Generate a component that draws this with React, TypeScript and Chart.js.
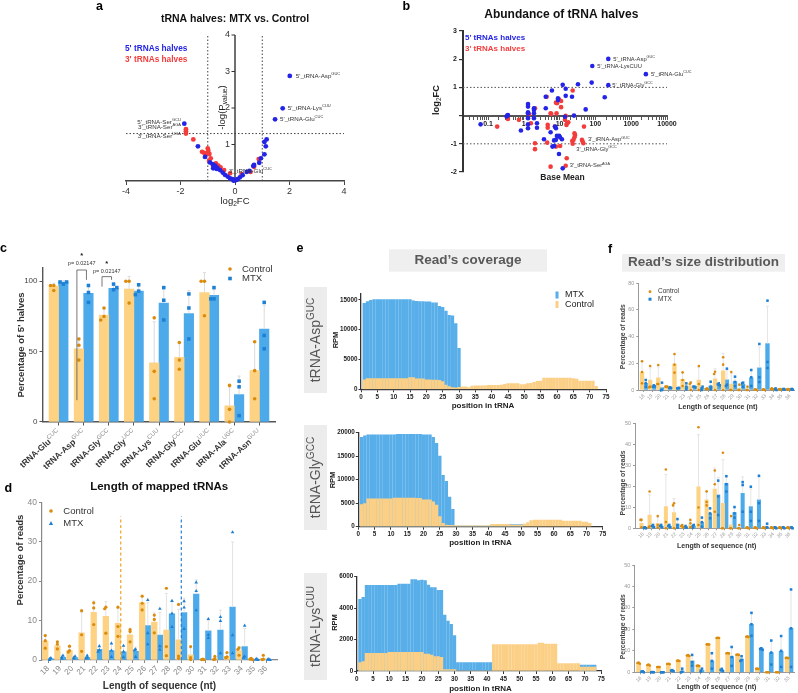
import React, { useEffect, useRef } from 'react';
import { Chart, registerables } from 'chart.js';

Chart.register(...registerables);

const W = 798;
const H = 693;
const FF = '"Liberation Sans", Arial, Helvetica, sans-serif';

const BAR_CTRL = '#FDD283';
const BAR_MTX = '#4DAAEA';
const DOT_CTRL = '#DB8B0C';
const DOT_MTX = '#1E80D4';
const COV_CTRL = '#FBD086';
const COV_MTX = '#58AEE8';
const PT5 = '#2424E6';
const PT3 = '#F43C3C';

// ---------------- panel a : volcano ----------------
const volcano5p: number[][] = [
  [2.01, 2.88], [1.75, 1.99], [1.47, 1.69], [-1.86, 1.57], [-1.36, 0.95], [-1.10, 0.66], [-0.92, 0.51],
  [-0.82, 0.46], [-0.73, 0.42], [-0.65, 0.36], [-0.55, 0.30], [-0.45, 0.23], [-0.37, 0.17], [-0.27, 0.12],
  [-0.18, 0.07], [-0.09, 0.05], [0, 0.02], [0.09, 0.05], [0.18, 0.10], [0.28, 0.16], [0.43, 0.25],
  [0.53, 0.28], [0.67, 0.41], [0.70, 0.44], [0.89, 0.50], [0.95, 0.62], [1.08, 0.73], [1.13, 0.95],
  [1.08, 1.07], [1.16, 1.14], [-0.80, 0.35], [-0.67, 0.33], [-0.05, 0.01], [0.05, 0.03],
];
const volcano3p: number[][] = [
  [-1.80, 1.42], [-1.80, 1.36], [-1.80, 1.30], [-1.53, 1.14], [-1.00, 0.89], [-0.98, 0.83], [-1.21, 0.80],
  [-1.13, 0.77], [-1.04, 0.75], [-0.94, 0.74], [-0.89, 0.62], [-0.70, 0.48], [-0.61, 0.42], [-0.53, 0.37],
  [-0.40, 0.30], [-0.18, 0.21], [0.24, 0.19], [0.57, 0.25], [0.70, 0.39], [0.87, 0.60], [-0.80, 0.39], [-0.95, 0.55],
];
const aVLines = [-1, 1];
const aHLine = 1.3;
const aYTicks = [1, 2, 3, 4];
const volcanoLabels = [
  { at: [2.01, 2.88], text: "5'_tRNA-Asp^{GUC}", dx: 6, dy: 0, align: 'left' },
  { at: [1.75, 1.99], text: "5'_tRNA-Lys^{CUU}", dx: 5, dy: 0, align: 'left' },
  { at: [1.47, 1.69], text: "5'_tRNA-Glu^{CUC}", dx: 5, dy: 0, align: 'left' },
  { at: [-1.86, 1.57], text: "5'_tRNA-Ser^{GCU}", dx: -3.5, dy: -1.5, align: 'right' },
  { at: [-1.80, 1.42], text: "3'_tRNA-Ser^{AGA}", dx: -5, dy: -2, align: 'right' },
  { at: [-1.80, 1.30], text: "3'_tRNA-Ser^{UGA}", dx: -5, dy: 3, align: 'right' },
  { at: [0.43, 0.25], text: "3'_tRNA-Glu^{CUC}", dx: -18, dy: -1, align: 'left' },
];

// ---------------- panel b : MA plot ----------------
const ma5p: number[][] = [
  [0.062, -0.31], [0.345, 0], [0.36, 0.02], [0.33, -0.03],
  [1.31, 0.41], [1.31, 0.32], [1.31, 0.12], [1.31, 0.08], [1.31, -0.09], [1.31, -0.31], [1.31, -0.45], [0.83, -0.53],
  [1.92, 0.20], [1.92, 0.08], [1.92, -0.09], [1.92, 0.26], [2.33, -0.43], [2.33, -0.27],
  [4.1, 0.26], [4.1, 0.67], [6.1, 0.89], [9.0, 0.61], [9.0, 0.55], [14.8, 0.95], [14.8, 0.70], [12.2, 1.09],
  [32.6, 1.11], [22.2, 0.67], [53.5, 0.22], [25.2, 0], [14.1, -0.04],
  [7.4, -0.39], [7.9, -0.45], [5.6, -0.59], [3.66, -0.84], [7.0, -0.88], [7.9, -0.86], [7.0, -1.08], [6.3, -1.1],
  [8.4, -0.72], [9.7, -0.72], [10.3, -0.77], [11.6, -0.84], [9.6, -1.36], [12.2, -1.87],
  [78.7, 1.17], [182, 0.65], [229, 2.01], [81.8, 1.76], [229, 1.08], [2570, 1.47],
];
const ma3p: number[][] = [
  [0.18, -0.39], [0.36, -0.12], [0.73, -0.15], [1.39, 0.05], [2.05, 0.26], [2.05, -0.98], [2.05, -1.19], [1.58, -0.27],
  [4.35, 0.67], [4.65, -0.33], [4.65, -0.43], [4.5, -0.96], [5.6, 0.08], [5.85, 0.06],
  [7.9, 0.46], [8.45, 0.44], [9.6, 0.58], [11.0, 0.52], [11.0, 0.30], [8.2, 0.08], [7.4, -0.39],
  [14.8, -0.01], [14.1, -0.15], [15.5, -0.33], [16.2, -0.27], [17.5, -0.24], [23.2, 0.89],
  [22.5, -0.9], [23.2, -1.0], [24.5, -0.86], [27, -0.69], [26, -0.63], [26, -0.77], [42, -0.86], [46, -0.98],
  [44, -0.92], [48, -0.39], [10.3, -1.08], [7.9, -1.1], [15.8, -1.51], [5.6, -1.81], [14.8, -1.78],
];
const bMajorVals = [0.1, 1, 10, 100, 1000, 10000];
const bTickLabels = ['0.1', '1', '10', '100', '1000', '10000'];
const bDotted = [1, -1];
const maLabels = [
  { at: [229, 2.01], text: "5'_tRNA-Asp^{GUC}", dx: 5, dy: 0 },
  { at: [81.8, 1.76], text: "5'_tRNA-LysCUU", dx: 5, dy: 0 },
  { at: [2570, 1.47], text: "5'_tRNA-Glu^{CUC}", dx: 5, dy: 0 },
  { at: [229, 1.08], text: "5'_tRNA-Gly^{GCC}", dx: 4, dy: 0 },
  { at: [42, -0.86], text: "3'_tRNA-Asp^{GUC}", dx: 6, dy: 0 },
  { at: [46, -0.98], text: "3'_tRNA-Gly^{GCC}", dx: -7, dy: 6 },
  { at: [14.8, -1.78], text: "3'_tRNA-Ser^{AGA}", dx: 4, dy: 0 },
];

// ---------------- panel c ----------------
const cCats = ['tRNA-Glu^{CUC}', 'tRNA-Asp^{GUC}', 'tRNA-Gly^{GCC}', 'tRNA-Gly^{UCC}', 'tRNA-Lys^{CUU}',
  'tRNA-Gly^{CCC}', 'tRNA-Glu^{UUC}', 'tRNA-Ala^{UGC}', 'tRNA-Asn^{GUU}'];
const cCtrlMean = [96.5, 52, 76, 94.5, 42, 46, 92, 11.5, 36.5];
const cMtxMean = [99.5, 91.5, 95, 93, 84.5, 77, 90, 19.5, 66];
const cCtrlReps = [[97, 93.4, 97], [59, 54.5, 44], [81, 75, 72.5], [100, 100, 84.5], [74, 36, 16.5],
  [56.5, 44, 37.5], [100, 100, 75.5], [26, 9, 0], [57, 36.5, 16.5]];
const cMtxReps = [[98, 99.5, 99.5], [97, 92, 85], [94, 98, 95.5], [97.5, 93, 90.5], [95.5, 86.5, 72.5],
  [91, 81, 59], [95.5, 87.5, 87.5], [29, 25, 4.5], [85, 61.5, 52]];
const cSig = [
  { group: 1, top: 108, left: 15.5, right: 101, text: 'p= 0.02147', textY: 112.6, starY: 118 },
  { group: 2, top: 103.3, left: 96.2, right: 101, text: 'p= 0.02147', textY: 107.3, starY: 112.5 },
];

// ---------------- panel d ----------------
const dCats = ['18', '19', '20', '21', '22', '23', '24', '25', '26', '27', '28', '29', '30', '31', '32', '33', '34', '35', '36'];
const dCtrlMean = [4.8, 3.6, 2.4, 6.9, 12.1, 11.1, 9.3, 6.4, 14.5, 9.6, 7.6, 5.1, 1.3, 0.1, 0.3, 0.9, 2.4, 0.3, 0.4];
const dMtxMean = [0.3, 0.7, 0.6, 0.7, 2.7, 2.4, 2.1, 2.2, 8.7, 6.3, 11.7, 12.0, 16.7, 7.4, 7.6, 13.4, 3.4, 0.1, 0.1];
const dCtrlReps = [[6.2, 4.9, 3.0], [4.6, 4.0, 2.8], [3.5, 2.4, 2.0], [12.5, 6.4, 2.2], [14.5, 13.2, 9.0],
  [13.4, 13.0, 6.8], [13.4, 8.5, 6.0], [7.7, 7.2, 4.6], [16.2, 14.4, 12.7], [11.4, 10.3, 6.9], [18.2, 3.4, 1.1],
  [14.1, 1.0, 0.4], [3.4, 0.6, 0.1], [0.2, 0.1, 0.1], [0.9, 0.2, 0.1], [1.9, 0.8, 0.6], [3.1, 2.7, 1.2],
  [0.4, 0.2, 0.1], [1.2, 0.2, 0.1]];
const dMtxReps = [[0.5, 0.3, 0.0], [1.1, 0.7, 0.3], [0.9, 0.6, 0.4], [1.1, 0.6, 0.4], [3.5, 2.5, 2.1],
  [4.2, 2.4, 0.8], [3.6, 2.1, 0.7], [2.7, 2.5, 0.8], [15.2, 6.8, 4.0], [13.0, 3.5, 2.6], [15.0, 11.8, 8.4],
  [14.9, 13.3, 7.9], [19.7, 17.5, 12.6], [10.4, 6.4, 5.6], [10.9, 9.9, 1.7], [32.4, 6.3, 1.7], [8.7, 0.9, 0.6],
  [0.3, 0.1, 0.0], [0.2, 0.1, 0.0]];
const dModeLines = [{ at: 6, top: 36.4, color: '#F2A227' }, { at: 11, top: 36.4, color: '#2A80D6' }];

// ---------------- panel e : coverage ----------------
const e1Mtx = [14450, 14730, 14950, 15050, 15050, 15050, 15050, 15050, 15050, 15050,
  15050, 15050, 15050, 15050, 15050, 14850, 14780, 14730, 14730, 14700,
  14700, 14500, 14500, 13950, 13770, 13150, 12430, 12320, 11030, 6890];
const e1Ctrl = [1600, 1800, 1800, 1800, 1800, 1800, 1800, 1800, 1800, 1800,
  1800, 1800, 1800, 1800, 1950, 1950, 1750, 1750, 1750, 1600,
  1600, 1550, 1550, 1500, 1300, 700, 450, 300, 250, 350,
  400, 400, 300, 550, 600, 600, 600, 600, 650, 650,
  650, 650, 700, 850, 950, 950, 950, 950, 800, 800,
  950, 1000, 1150, 1350, 1400, 1900, 1900, 1900, 1900, 1900,
  1900, 1900, 1900, 1900, 1800, 1700, 1400, 1400, 1400, 1400,
  1400, 500];
const e2Mtx = [19000, 19300, 19500, 19500, 19500, 19500, 19500, 19500, 19500, 19500,
  19500, 19600, 19600, 19600, 19600, 19600, 19600, 19600, 19600, 19500,
  19500, 19500, 19000, 17700, 15000, 10900, 9650, 6300, 3700, 100,
  100, 100, 100, 100, 100, 100, 100, 100, 100, 100,
  300, 300, 300, 300, 450, 450, 450, 450, 450, 450];
const e2Ctrl = [4700, 4900, 5900, 5900, 5900, 5900, 5900, 5900, 5900, 5900,
  6100, 6100, 6100, 6100, 6100, 6100, 6100, 6000, 6000, 5700,
  5700, 5700, 5300, 4570, 2140, 700, 350, 280, 280, 200,
  200, 200, 200, 200, 200, 200, 200, 200, 200, 200,
  500, 500, 500, 500, 500, 500, 350, 350, 350, 350,
  570, 850, 1300, 1430, 1430, 1430, 1430, 1430, 1430, 1430,
  1430, 1430, 1200, 1200, 1200, 1200, 1200, 1200, 1000, 1000,
  700];
const e3Mtx = [4560, 4690, 5450, 5450, 5450, 5450, 5450, 5450, 5450, 5450,
  5450, 5450, 5530, 5530, 5530, 5530, 5810, 5810, 5750, 5790,
  5750, 5470, 5300, 5300, 5130, 5130, 3560, 3180, 2970, 2250,
  530, 530, 530, 530, 530, 530, 530, 530, 530, 530,
  530, 0, 0, 0, 0, 0, 0, 0, 0, 0,
  0, 0, 0, 0, 0, 0, 0, 0, 0, 0,
  0, 0, 0, 0, 0, 0, 0, 0, 380, 380,
  380, 380, 380];
const e3Ctrl = [530, 600, 1120, 1120, 1120, 1120, 1120, 1120, 1120, 1190,
  1190, 1190, 1190, 1190, 1190, 1190, 1190, 1190, 1190, 1190,
  1080, 1080, 1020, 910, 910, 870, 90, 90, 90, 90,
  0, 0, 0, 0, 0, 0, 0, 0, 0, 0,
  0, 1680, 1680, 1680, 1680, 1680, 1680, 1680, 1680, 1680,
  1680, 1680, 1680, 1680, 1680, 1780, 1780, 1720, 1720, 1720,
  1720, 480, 480, 480, 480, 480, 480, 480, 250, 250,
  250, 250, 250];
const e1YTicks = [0, 5000, 10000, 15000];
const e2YTicks = [0, 5000, 10000, 15000, 20000];
const e3YTicks = [0, 2000, 4000, 6000];

// ---------------- panel f : size distribution ----------------
const fCats = ['18', '19', '20', '21', '22', '23', '24', '25', '26', '27', '28', '29', '30', '31', '32', '33', '34', '35', '36'];
const f3Cats = ['18', '19', '20', '21', '22', '23', '24', '25', '26', '27', '28', '29', '30', '31', '32', '33'];
const f1CtrlMean = [13.3, 7.5, 9.2, 2.5, 19.5, 8.0, 3.2, 7.5, 0.8, 8.4, 14.4, 4.5, 1.3, 0.8, 0.3, 0.3, 0.8, 0.5, 0.5];
const f1MtxMean = [5, 3.0, 1.8, 1.7, 1.3, 2.6, 2.4, 1.2, 3.0, 4.2, 7.6, 6.3, 4.3, 9.2, 16.7, 34.8, 0.6, 0.5, 0.5];
const f1CtrlReps = [[21.5, 13.5, 5], [18, 2.5, 2], [18.7, 4.5, 4.5], [2.5, 2.5, 2.5], [27, 19, 13], [13.2, 7.5, 3],
  [5.5, 4.5, 0], [18, 4.5, 0], [1.2, 0.8, 0.5], [13.7, 12, 0], [24.5, 19, 0], [13.5, 0, 0], [4, 0, 0], [2.5, 0, 0],
  [0.5, 0.3, 0], [0.5, 0.3, 0], [1.2, 0.8, 0.5], [0.8, 0.5, 0.3], [0.8, 0.5, 0.3]];
const f1MtxReps = [[7.5, 5, 2.5], [3.5, 2.5, 2.7], [5.5, 0, 0], [2, 1.5, 1.5], [1.5, 1.2, 1.5], [5, 2.5, 0.5],
  [2.5, 2.5, 2.0], [2.5, 1.2, 0], [6.2, 2.5, 0.5], [5, 4.2, 3.5], [16, 4, 3], [10, 6, 3], [5.5, 5, 2.5],
  [15, 9.5, 3], [34.5, 9.5, 6], [67, 21, 16.5], [1.2, 0.5, 0], [0.8, 0.5, 0.3], [0.8, 0.5, 0.3]];
const f2CtrlMean = [2.4, 6.3, 2.4, 10.3, 7.5, 1.1, 1.6, 19.8, 13.5, 18.7, 11.9, 1.6, 0.5, 0.3, 0.3, 0.3, 0.3, 0.3, 0.3];
const f2MtxMean = [0.5, 1.1, 1.1, 1.1, 2.0, 0.6, 1.1, 2.9, 7.1, 15.9, 21.4, 7.5, 16.7, 10.3, 13.5, 0.5, 0.5, 0.5, 0.5];
const f2CtrlReps = [[4, 4, 0.5], [17.5, 1, 0.5], [5.8, 1.6, 0.3], [28, 3, 0], [11.9, 10.9, 0], [1.6, 1.1, 0.5],
  [4, 2.4, 0.5], [48.1, 9.9, 1.6], [17.6, 12.5, 10.9], [27.5, 21, 7.9], [36, 0, 0], [5.8, 0, 0], [1.6, 0, 0],
  [0.5, 0.3, 0], [0.5, 0.3, 0], [0.5, 0.3, 0], [0.5, 0.3, 0], [0.5, 0.3, 0], [0.5, 0.3, 0]];
const f2MtxReps = [[0.5, 0.3, 0], [1.6, 1.1, 0.5], [1.6, 1.1, 0.5], [1.6, 1.1, 0.5], [4.4, 1.6, 0.3], [1.1, 0.5, 0.3],
  [1.6, 1.1, 0.3], [5.1, 2.9, 0.8], [9.5, 7.1, 4.8], [22.7, 15.2, 6.3], [24.8, 21, 17.5], [10.1, 7.1, 5.1],
  [22, 20.6, 7.9], [19.8, 7.9, 3.5], [25, 12, 3.5], [2.2, 0.5, 0.3], [0.5, 0.3, 0], [0.5, 0.3, 0], [0.5, 0.3, 0]];
const f3CtrlMean = [4.3, 3.4, 2.5, 3.9, 5.4, 7.8, 3.0, 13.0, 16.0, 8.9, 8.2, 16.6, 1.6, 0, 0, 6.7];
const f3MtxMean = [0.3, 0.05, 0, 0.8, 0.6, 5.3, 0.9, 5.3, 1.1, 7.3, 6.2, 22.4, 10.9, 9.2, 9.8, 20.5];
const f3CtrlReps = [[4.5, 4.3, 4.0], [3.6, 3.4, 3.2], [2.5, 2.5, 2.5], [4.0, 3.9, 3.8], [5.5, 5.4, 5.3], [8.0, 7.8, 7.6],
  [3.1, 3.0, 2.9], [13.1, 13, 12.9], [16.1, 16, 16], [9.0, 8.9, 8.8], [8.3, 8.2, 8.1], [16.8, 16.6, 16.4],
  [1.7, 1.6, 1.5], [0, 0, 0], [0, 0, 0], [6.8, 6.7, 6.6]];
const f3MtxReps = [[0.5, 0.3, 0], [0.1, 0.05, 0], [0, 0, 0], [1, 0.8, 0.5], [1.7, 0.3, 0], [8.1, 4.7, 3.1],
  [1.7, 0.8, 0.3], [8.9, 5.3, 1.7], [1.6, 1.1, 0.5], [11.8, 7.1, 3.0], [7.5, 5.8, 5.3], [27.7, 22.4, 17],
  [11.2, 10.9, 10.5], [14.8, 9.2, 3.6], [16.9, 10, 2.5], [38.6, 20.5, 2.5]];

// ---------------- helpers ----------------
type Seg = { t: string; k: 'n' | 'sup' | 'sub' };
function parseRich(s: string): Seg[] {
  const out: Seg[] = [];
  const re = /(\^\{[^}]*\}|_\{[^}]*\})/g;
  let last = 0;
  let m: RegExpExecArray | null;
  while ((m = re.exec(s))) {
    if (m.index > last) out.push({ t: s.slice(last, m.index), k: 'n' });
    out.push({ t: m[0].slice(2, -1), k: m[0][0] === '^' ? 'sup' : 'sub' });
    last = m.index + m[0].length;
  }
  if (last < s.length) out.push({ t: s.slice(last), k: 'n' });
  return out;
}
interface RO { bold?: boolean; color?: string; supColor?: string; align?: string; rot?: number; supScale?: number; supBold?: boolean; baseline?: string }
function rich(ctx: CanvasRenderingContext2D, s: string, x: number, y: number, size: number, o: RO = {}) {
  const segs = parseRich(s);
  const sc = o.supScale ?? 0.7;
  const fontFor = (k: string) => {
    const b = o.bold && (k === 'n' || o.supBold) ? 'bold ' : '';
    return `${b}${k === 'n' ? size : size * sc}px ${FF}`;
  };
  ctx.save();
  let total = 0;
  const widths = segs.map((g) => { ctx.font = fontFor(g.k); const w = ctx.measureText(g.t).width; total += w; return w; });
  ctx.translate(x, y);
  if (o.rot) ctx.rotate((o.rot * Math.PI) / 180);
  let cx = o.align === 'right' ? -total : o.align === 'center' ? -total / 2 : 0;
  ctx.textBaseline = (o.baseline as CanvasTextBaseline) || 'middle';
  ctx.textAlign = 'left';
  segs.forEach((g, i) => {
    ctx.font = fontFor(g.k);
    ctx.fillStyle = g.k === 'n' ? (o.color ?? '#222') : (o.supColor ?? o.color ?? '#222');
    const dy = g.k === 'sup' ? -size * 0.38 : g.k === 'sub' ? size * 0.3 : 0;
    ctx.fillText(g.t, cx, dy);
    cx += widths[i];
  });
  ctx.restore();
}
function line(ctx: CanvasRenderingContext2D, x1: number, y1: number, x2: number, y2: number, color: string, width = 1, dash: number[] = []) {
  ctx.save();
  ctx.beginPath();
  ctx.setLineDash(dash);
  ctx.strokeStyle = color;
  ctx.lineWidth = width;
  ctx.moveTo(x1, y1);
  ctx.lineTo(x2, y2);
  ctx.stroke();
  ctx.restore();
}
function marker(ctx: CanvasRenderingContext2D, kind: string, x: number, y: number, r: number, color: string) {
  ctx.save();
  ctx.fillStyle = color;
  ctx.beginPath();
  if (kind === 'circle') { ctx.arc(x, y, r, 0, Math.PI * 2); ctx.fill(); }
  else if (kind === 'rect') { ctx.fillRect(x - r, y - r, 2 * r, 2 * r); }
  else { ctx.moveTo(x, y - r * 1.15); ctx.lineTo(x + r, y + r * 0.75); ctx.lineTo(x - r, y + r * 0.75); ctx.closePath(); ctx.fill(); }
  ctx.restore();
}
function box(ctx: CanvasRenderingContext2D, x1: number, y1: number, x2: number, y2: number, color: string) {
  ctx.save(); ctx.fillStyle = color; ctx.fillRect(x1, y1, x2 - x1, y2 - y1); ctx.restore();
}
function letter(ctx: CanvasRenderingContext2D, t: string, x: number, y: number) {
  rich(ctx, t, x, y, 12.5, { bold: true, color: '#000', baseline: 'alphabetic' });
}
function sdOf(a: number[]) {
  const n = a.length;
  if (n < 2) return 0;
  const m = a.reduce((s, v) => s + v, 0) / n;
  return Math.sqrt(a.reduce((s, v) => s + (v - m) * (v - m), 0) / (n - 1));
}
function dodge(vals: number[], thresh: number, step: number) {
  return vals.map((v, j) => {
    let k = 0;
    for (let m = 0; m < j; m++) if (Math.abs(vals[m] - v) < thresh) k++;
    return k === 0 ? 0 : (k % 2 ? -1 : 1) * Math.ceil(k / 2) * step;
  });
}
function fixW(w: number) {
  return (s: any) => { s.width = w; s.paddingTop = 0; s.paddingBottom = 0; s.paddingLeft = 0; s.paddingRight = 0; };
}
function fixH(h: number) {
  return (s: any) => { s.height = h; s.paddingTop = 0; s.paddingBottom = 0; s.paddingLeft = 0; s.paddingRight = 0; };
}
function baseOpts(L: number, T: number, R: number, B: number, yW: number, xH: number) {
  return {
    responsive: false,
    maintainAspectRatio: false,
    animation: false as const,
    events: [] as any[],
    layout: { padding: { left: L - yW, top: T, right: W - R, bottom: H - B - xH } },
    plugins: { legend: { display: false }, tooltip: { enabled: false }, title: { display: false } },
  };
}

// ---------------- chart a ----------------
function makeA(cv: HTMLCanvasElement) {
  return new Chart(cv, {
    type: 'scatter',
    data: {
      datasets: [
        { data: volcano5p.map(([x, y]) => ({ x, y })), backgroundColor: PT5, pointRadius: 2.4, borderWidth: 0, clip: false } as any,
        { data: volcano3p.map(([x, y]) => ({ x, y })), backgroundColor: PT3, pointRadius: 2.4, borderWidth: 0, clip: false } as any,
      ],
    },
    options: {
      ...baseOpts(126, 35, 344, 181, 0, 22),
      scales: {
        x: {
          type: 'linear', min: -4, max: 4, afterFit: fixH(22),
          ticks: { stepSize: 2, color: '#333', font: { family: FF, size: 9 }, padding: 1, maxRotation: 0, includeBounds: false },
          grid: { drawOnChartArea: false, tickLength: 4, color: '#444', lineWidth: 1 },
          border: { color: '#444', width: 1.4 },
        },
        y: { type: 'linear', min: 0, max: 4, display: false },
      },
    } as any,
    plugins: [{
      id: 'pa',
      beforeDatasetsDraw(c: any) {
        const ctx = c.ctx; const X = (v: number) => c.scales.x.getPixelForValue(v); const Y = (v: number) => c.scales.y.getPixelForValue(v);
        aVLines.forEach((v) => line(ctx, X(v), Y(0), X(v), Y(4), '#444', 1, [1.5, 2]));
        line(ctx, X(-4), Y(aHLine), X(4), Y(aHLine), '#444', 1, [1.5, 2]);
        line(ctx, X(0), Y(0), X(0), Y(4), '#333', 1.4);
        aYTicks.forEach((v) => {
          line(ctx, X(0) - 3.5, Y(v), X(0), Y(v), '#333', 1);
          rich(ctx, String(v), X(0) - 5, Y(v), 9, { align: 'right', color: '#333' });
        });
      },
      afterDraw(c: any) {
        const ctx = c.ctx; const X = (v: number) => c.scales.x.getPixelForValue(v); const Y = (v: number) => c.scales.y.getPixelForValue(v);
        volcanoLabels.forEach((l) => rich(ctx, l.text, X(l.at[0]) + l.dx, Y(l.at[1]) + l.dy, 6.2, { align: l.align, color: '#333', supScale: 0.65 }));
        rich(ctx, '-log(P_{value})', 222, 107.5, 9.5, { align: 'center', rot: -90, color: '#222' });
        rich(ctx, 'log_{2}FC', 235, 201.7, 9.5, { align: 'center', color: '#222' });
        rich(ctx, "5' tRNAs halves", 125, 48.3, 8.3, { bold: true, color: PT5 });
        rich(ctx, "3' tRNAs halves", 125, 60, 8.3, { bold: true, color: PT3 });
        rich(ctx, 'tRNA halves: MTX vs. Control', 235, 19, 10.5, { bold: true, align: 'center', color: '#111' });
        letter(ctx, 'a', 96, 9.5);
      },
    }],
  });
}

// ---------------- chart b ----------------
function makeB(cv: HTMLCanvasElement) {
  const tickVals: number[] = [];
  for (let e = -2; e <= 4; e++) for (let m = 1; m <= 9; m++) {
    const v = m * Math.pow(10, e);
    if (v >= 0.02 - 1e-12 && v <= 10000 * (1 + 1e-9)) tickVals.push(v);
  }
  const label = (v: number) => {
    const i = bMajorVals.findIndex((m) => Math.abs(v - m) / m < 1e-6);
    return i >= 0 ? bTickLabels[i] : '';
  };
  return new Chart(cv, {
    type: 'scatter',
    data: {
      datasets: [
        { data: ma5p.map(([x, y]) => ({ x, y })), backgroundColor: PT5, pointRadius: 2.3, borderWidth: 0, clip: false } as any,
        { data: ma3p.map(([x, y]) => ({ x, y })), backgroundColor: PT3, pointRadius: 2.3, borderWidth: 0, clip: false } as any,
      ],
    },
    options: {
      ...baseOpts(463, 31, 667, 172, 22, 0),
      scales: {
        x: {
          type: 'logarithmic', min: 0.02, max: 10000, position: { y: 0 },
          afterBuildTicks: (s: any) => { s.ticks = tickVals.map((v) => ({ value: v })); },
          ticks: { autoSkip: false, maxRotation: 0, minRotation: 0, padding: 1.5, color: '#222', font: { family: FF, size: 7, weight: 'bold' }, callback: (v: any) => label(Number(v)) },
          grid: { drawOnChartArea: false, tickLength: 3, color: '#555', lineWidth: 1 },
          border: { color: '#555', width: 2 },
        },
        y: {
          type: 'linear', min: -2, max: 3, position: 'left', afterFit: fixW(22),
          ticks: { stepSize: 1, padding: 2, color: '#222', font: { family: FF, size: 7, weight: 'bold' }, callback: (v: any) => (Number(v) === 0 ? '' : String(v)) },
          grid: { drawOnChartArea: false, tickLength: 4, color: '#333', lineWidth: 1.2 },
          border: { color: '#333', width: 2 },
        },
      },
    } as any,
    plugins: [{
      id: 'pb',
      beforeDatasetsDraw(c: any) {
        const ctx = c.ctx; const X = (v: number) => c.scales.x.getPixelForValue(v); const Y = (v: number) => c.scales.y.getPixelForValue(v);
        bDotted.forEach((v) => line(ctx, X(0.02), Y(v), X(10000), Y(v), '#555', 1, [1.5, 2]));
      },
      afterDraw(c: any) {
        const ctx = c.ctx; const X = (v: number) => c.scales.x.getPixelForValue(v); const Y = (v: number) => c.scales.y.getPixelForValue(v);
        maLabels.forEach((l) => rich(ctx, l.text, X(l.at[0]) + l.dx, Y(l.at[1]) + l.dy, 5.8, { color: '#333', supScale: 0.65 }));
        rich(ctx, "5' tRNAs halves", 465, 37.7, 8, { bold: true, color: PT5 });
        rich(ctx, "3' tRNAs halves", 465, 48.3, 8, { bold: true, color: PT3 });
        rich(ctx, 'log_{2}FC', 436.7, 100, 9.3, { bold: true, align: 'center', rot: -90, color: '#222' });
        rich(ctx, 'Base Mean', 562.5, 177.7, 8.5, { bold: true, align: 'center', color: '#222' });
        rich(ctx, 'Abundance of tRNA halves', 561.3, 14.3, 12, { bold: true, align: 'center', color: '#111' });
        letter(ctx, 'b', 402.5, 10);
      },
    }],
  });
}

// ---------------- grouped bar + dots ----------------
interface GCfg {
  L: number; T: number; R: number; B: number; yW: number; xH: number;
  xMin: number; xMax: number; yMax: number; yStep: number; cats: string[]; showX: boolean;
  ctrlMean: number[]; mtxMean: number[]; ctrlReps: number[][]; mtxReps: number[][];
  off: number; thick: number; dotR: number; mtxR: number; mtxStyle: string; dodgeT: number; dodgeS: number;
  axisColor: string; axisW: number; tickLen: number; yFont: number; yColor: string; xFont: number; xColor: string; xRot: number;
  errColor: string; draw: (c: any, ctx: CanvasRenderingContext2D) => void;
}
function makeGrouped(cv: HTMLCanvasElement, g: GCfg) {
  const dots = (reps: number[][], sign: number) => reps.flatMap((r, i) => {
    const d = dodge(r, g.dodgeT, g.dodgeS);
    return r.map((v, j) => ({ x: i + sign * g.off + d[j], y: v }));
  });
  const drawErr = (c: any) => {
    const ctx = c.ctx; const xs = c.scales.x; const ys = c.scales.y;
    ctx.save(); ctx.strokeStyle = g.errColor; ctx.lineWidth = 0.8;
    const sets: [number[], number[][], number][] = [[g.ctrlMean, g.ctrlReps, -1], [g.mtxMean, g.mtxReps, 1]];
    sets.forEach(([means, reps, s]) => {
      means.forEach((m, i) => {
        const sd = sdOf(reps[i]);
        if (sd <= 0.05) return;
        const px = xs.getPixelForValue(i + s * g.off);
        const y1 = ys.getPixelForValue(m); const y2 = ys.getPixelForValue(m + sd);
        ctx.beginPath(); ctx.moveTo(px, y1); ctx.lineTo(px, y2); ctx.moveTo(px - 1.5, y2); ctx.lineTo(px + 1.5, y2); ctx.stroke();
      });
    });
    ctx.restore();
  };
  return new Chart(cv, {
    type: 'bar',
    data: {
      datasets: [
        { type: 'scatter', data: dots(g.ctrlReps, -1), pointRadius: g.dotR, pointStyle: 'circle', backgroundColor: DOT_CTRL, borderWidth: 0, order: 1, clip: false } as any,
        { type: 'scatter', data: dots(g.mtxReps, 1), pointRadius: g.mtxR, pointStyle: g.mtxStyle, backgroundColor: DOT_MTX, borderWidth: 0, order: 1, clip: false } as any,
        { type: 'bar', data: g.ctrlMean.map((v, i) => ({ x: i - g.off, y: v })), backgroundColor: BAR_CTRL, barThickness: g.thick, grouped: false, order: 3, borderWidth: 0 } as any,
        { type: 'bar', data: g.mtxMean.map((v, i) => ({ x: i + g.off, y: v })), backgroundColor: BAR_MTX, barThickness: g.thick, grouped: false, order: 3, borderWidth: 0 } as any,
      ],
    },
    options: {
      ...baseOpts(g.L, g.T, g.R, g.B, g.yW, g.xH),
      scales: {
        x: {
          type: 'linear', min: g.xMin, max: g.xMax, offset: false, afterFit: fixH(g.xH),
          afterBuildTicks: (s: any) => { s.ticks = g.cats.map((_, i) => ({ value: i })); },
          ticks: { display: g.showX, autoSkip: false, minRotation: g.xRot, maxRotation: g.xRot, padding: 1, color: g.xColor, font: { family: FF, size: g.xFont }, callback: (v: any) => g.cats[Math.round(Number(v))] ?? '' },
          grid: { drawOnChartArea: false, offset: false, tickLength: g.tickLen, color: g.axisColor, lineWidth: 1 },
          border: { color: g.axisColor, width: g.axisW },
        },
        y: {
          type: 'linear', min: 0, max: g.yMax, afterFit: fixW(g.yW),
          ticks: { stepSize: g.yStep, includeBounds: false, padding: 2, color: g.yColor, font: { family: FF, size: g.yFont } },
          grid: { drawOnChartArea: false, tickLength: g.tickLen, color: g.axisColor, lineWidth: 1 },
          border: { color: g.axisColor, width: g.axisW },
        },
      },
    } as any,
    plugins: [{
      id: 'grp',
      afterDatasetDraw(c: any, args: any) { if (args.index === 2) drawErr(c); },
      afterDraw(c: any) { g.draw(c, c.ctx); },
    }],
  });
}

const C_OFF = 0.19;
function makeC(cv: HTMLCanvasElement) {
  return makeGrouped(cv, {
    L: 43, T: 267.2, R: 275, B: 422, yW: 20, xH: 8, xMin: -0.62, xMax: 8.62, yMax: 110, yStep: 50,
    cats: cCats, showX: false, ctrlMean: cCtrlMean, mtxMean: cMtxMean, ctrlReps: cCtrlReps, mtxReps: cMtxReps,
    off: C_OFF, thick: 9.5, dotR: 1.8, mtxR: 2.5, mtxStyle: 'rect', dodgeT: 3, dodgeS: 0.13,
    axisColor: '#555', axisW: 1.4, tickLen: 3.5, yFont: 8, yColor: '#444', xFont: 8, xColor: '#444', xRot: 0,
    errColor: '#d2d2d2',
    draw: (c, ctx) => {
      const xs = c.scales.x; const ys = c.scales.y;
      cCats.forEach((t, i) => rich(ctx, t, xs.getPixelForValue(i) + 1, 432, 8.5, { bold: true, color: '#333', supColor: '#8a8a8a', align: 'right', rot: -42, supScale: 0.72 }));
      cSig.forEach((s) => {
        const xl = xs.getPixelForValue(s.group - C_OFF) - 2; const xr = xs.getPixelForValue(s.group + C_OFF) - 2;
        const yt = ys.getPixelForValue(s.top);
        ctx.save(); ctx.strokeStyle = '#555'; ctx.lineWidth = 0.8; ctx.beginPath();
        ctx.moveTo(xl, ys.getPixelForValue(s.left)); ctx.lineTo(xl, yt); ctx.lineTo(xr, yt); ctx.lineTo(xr, ys.getPixelForValue(s.right));
        ctx.stroke(); ctx.restore();
        rich(ctx, s.text, (xl + xr) / 2, ys.getPixelForValue(s.textY), 5.5, { align: 'center', color: '#333' });
        rich(ctx, '*', (xl + xr) / 2, ys.getPixelForValue(s.starY), 7.5, { align: 'center', bold: true, color: '#222' });
      });
      marker(ctx, 'circle', 230, 269, 1.8, DOT_CTRL);
      rich(ctx, 'Control', 242, 269, 9.5, { color: '#333' });
      marker(ctx, 'rect', 230, 278.5, 1.8, DOT_MTX);
      rich(ctx, 'MTX', 242, 278.5, 9.5, { color: '#333' });
      rich(ctx, "Percentage of 5' halves", 21.7, 345, 9.5, { bold: true, align: 'center', rot: -90, color: '#333' });
      letter(ctx, 'c', 0, 251.7);
    },
  });
}

function makeD(cv: HTMLCanvasElement) {
  return makeGrouped(cv, {
    L: 42, T: 502.3, R: 277, B: 660, yW: 20, xH: 20, xMin: -0.5, xMax: 18.9, yMax: 40, yStep: 10,
    cats: dCats, showX: true, ctrlMean: dCtrlMean, mtxMean: dMtxMean, ctrlReps: dCtrlReps, mtxReps: dMtxReps,
    off: 0.23, thick: 5.6, dotR: 1.6, mtxR: 2.1, mtxStyle: 'triangle', dodgeT: 0.5, dodgeS: 0.1,
    axisColor: '#888', axisW: 1.2, tickLen: 3, yFont: 8.5, yColor: '#888', xFont: 8, xColor: '#888', xRot: 45,
    errColor: '#dcdcdc',
    draw: (c, ctx) => {
      const xs = c.scales.x; const ys = c.scales.y;
      dModeLines.forEach((m) => line(ctx, xs.getPixelForValue(m.at), ys.getPixelForValue(0), xs.getPixelForValue(m.at), ys.getPixelForValue(m.top), m.color, 1.2, [3, 2.5]));
      marker(ctx, 'circle', 51, 511, 1.8, DOT_CTRL);
      rich(ctx, 'Control', 63.3, 511, 9.5, { color: '#333' });
      marker(ctx, 'tri', 51, 523.3, 2.1, DOT_MTX);
      rich(ctx, 'MTX', 63.3, 523.3, 9.5, { color: '#333' });
      rich(ctx, 'Length of mapped tRNAs', 159.2, 486.7, 11.5, { bold: true, align: 'center', color: '#111' });
      rich(ctx, 'Percentage of reads', 20.8, 560, 9.5, { bold: true, align: 'center', rot: -90, color: '#333' });
      rich(ctx, 'Length of sequence (nt)', 159.5, 686.7, 10, { bold: true, align: 'center', color: '#333' });
      letter(ctx, 'd', 4.5, 491.7);
    },
  });
}

function fDraw(cx: number, yTitleY: number, xTitleY: number, first: boolean) {
  return (c: any, ctx: CanvasRenderingContext2D) => {
    rich(ctx, 'Percentage of reads', 623, yTitleY, 6.8, { bold: true, align: 'center', rot: -90, color: '#444' });
    rich(ctx, 'Length of sequence (nt)', cx, xTitleY, 7, { bold: true, align: 'center', color: '#333' });
    if (first) {
      marker(ctx, 'circle', 650, 291.7, 1.4, DOT_CTRL);
      rich(ctx, 'Control', 658, 291.7, 6.5, { color: '#333' });
      marker(ctx, 'rect', 650, 299.2, 1.5, DOT_MTX);
      rich(ctx, 'MTX', 658, 299.2, 6.5, { color: '#333' });
      box(ctx, 622, 254, 785, 271.7, '#efefef');
      rich(ctx, 'Read\u2019s size distribution', 703.5, 262.5, 13.5, { bold: true, align: 'center', color: '#595959' });
      letter(ctx, 'f', 608, 253.3);
    }
  };
}
const F_COMMON = {
  yW: 12, xH: 10, showX: true, dotR: 1.3, mtxR: 1.8, mtxStyle: 'rect', dodgeS: 0.12,
  axisColor: '#999', axisW: 1, tickLen: 2, yFont: 5.5, yColor: '#999', xFont: 5, xColor: '#999', xRot: 45, errColor: '#dedede',
};
function makeF1(cv: HTMLCanvasElement) {
  return makeGrouped(cv, {
    ...F_COMMON, L: 638.3, T: 283.3, R: 797.4, B: 390, xMin: -0.69, xMax: 18.5, yMax: 80, yStep: 20,
    cats: fCats, ctrlMean: f1CtrlMean, mtxMean: f1MtxMean, ctrlReps: f1CtrlReps, mtxReps: f1MtxReps,
    off: 0.23, thick: 3.7, dodgeT: 2, draw: fDraw(718, 336.7, 407.3, true),
  } as GCfg);
}
function makeF2(cv: HTMLCanvasElement) {
  return makeGrouped(cv, {
    ...F_COMMON, L: 635, T: 423.3, R: 793.1, B: 528.3, xMin: -1.0, xMax: 18.4, yMax: 50, yStep: 10,
    cats: fCats, ctrlMean: f2CtrlMean, mtxMean: f2MtxMean, ctrlReps: f2CtrlReps, mtxReps: f2MtxReps,
    off: 0.21, thick: 3.4, dodgeT: 1.2, draw: fDraw(716.7, 483, 546, false),
  } as GCfg);
}
function makeF3(cv: HTMLCanvasElement) {
  return makeGrouped(cv, {
    ...F_COMMON, L: 634.3, T: 565, R: 795.7, B: 672.3, xMin: -0.64, xMax: 15.5, yMax: 50, yStep: 10,
    cats: f3Cats, ctrlMean: f3CtrlMean, mtxMean: f3MtxMean, ctrlReps: f3CtrlReps, mtxReps: f3MtxReps,
    off: 0.2, thick: 4, dodgeT: 1.2, draw: fDraw(716.7, 626.7, 687, false),
  } as GCfg);
}

// ---------------- coverage ----------------
interface ECfg {
  L: number; T: number; R: number; B: number; yMax: number; yTicks: number[]; mtx: number[]; ctrl: number[];
  side: string; sideBox: number[]; rpm: number[]; xTitle: number[]; first: boolean;
}
function makeE(cv: HTMLCanvasElement, e: ECfg) {
  const yW = 30; const xH = 14;
  const tickFont = { family: FF, size: 6.3, weight: 'bold' };
  return new Chart(cv, {
    type: 'bar',
    data: {
      datasets: [
        { label: 'Control', data: e.ctrl.map((v, i) => ({ x: i + 1, y: v })), backgroundColor: COV_CTRL, barThickness: 2.7, grouped: false, borderWidth: 0 } as any,
        { label: 'MTX', data: e.mtx.map((v, i) => ({ x: i + 1, y: v })), backgroundColor: COV_MTX, barThickness: 2.7, grouped: false, borderWidth: 0 } as any,
      ],
    },
    options: {
      ...baseOpts(e.L, e.T, e.R, e.B, yW, xH),
      scales: {
        x: {
          type: 'linear', min: 0, max: 75, offset: false, afterFit: fixH(xH),
          ticks: { stepSize: 5, includeBounds: false, maxRotation: 0, padding: 1, color: '#222', font: tickFont, callback: (v: any) => String(v) },
          grid: { drawOnChartArea: false, offset: false, tickLength: 3, color: '#333', lineWidth: 1 },
          border: { color: '#333', width: 1.3 },
        },
        y: {
          type: 'linear', min: 0, max: e.yMax, afterFit: fixW(yW),
          afterBuildTicks: (s: any) => { s.ticks = e.yTicks.map((v) => ({ value: v })); },
          ticks: { autoSkip: false, padding: 1, color: '#222', font: tickFont, callback: (v: any) => String(v) },
          grid: { drawOnChartArea: false, tickLength: 2.5, color: '#333', lineWidth: 1 },
          border: { color: '#333', width: 1.3 },
        },
      },
    } as any,
    plugins: [{
      id: 'pe',
      afterDraw(c: any) {
        const ctx = c.ctx;
        const [bx1, by1, bx2, by2] = e.sideBox;
        box(ctx, bx1, by1, bx2, by2, '#ececec');
        rich(ctx, e.side, (bx1 + bx2) / 2 + 1, (by1 + by2) / 2, 14, { align: 'center', rot: -90, color: '#555', supScale: 0.72 });
        rich(ctx, 'RPM', e.rpm[0], e.rpm[1], 7.5, { bold: true, align: 'center', rot: -90, color: '#222' });
        rich(ctx, 'position in tRNA', e.xTitle[0], e.xTitle[1], 8, { bold: true, align: 'center', color: '#222' });
        if (e.first) {
          box(ctx, 555.5, 291.5, 558.5, 298.5, COV_MTX);
          rich(ctx, 'MTX', 565, 295, 9, { color: '#222' });
          box(ctx, 555.5, 301, 558.5, 308, COV_CTRL);
          rich(ctx, 'Control', 565, 304.5, 9, { color: '#222' });
          box(ctx, 389, 249.3, 547, 271.7, '#efefef');
          rich(ctx, 'Read\u2019s coverage', 468, 260.7, 13.5, { bold: true, align: 'center', color: '#595959' });
          letter(ctx, 'e', 296.5, 251.7);
        }
      },
    }],
  });
}
const makeE1 = (cv: HTMLCanvasElement) => makeE(cv, { L: 361, T: 294, R: 606, B: 389.3, yMax: 16000, yTicks: e1YTicks, mtx: e1Mtx, ctrl: e1Ctrl, side: 'tRNA-Asp^{GUC}', sideBox: [304, 287, 327, 393], rpm: [335.5, 340], xTitle: [483, 405.7], first: true });
const makeE2 = (cv: HTMLCanvasElement) => makeE(cv, { L: 358.3, T: 432.5, R: 602.8, B: 526.7, yMax: 20000, yTicks: e2YTicks, mtx: e2Mtx, ctrl: e2Ctrl, side: 'tRNA-Gly^{GCC}', sideBox: [304, 425, 327, 530], rpm: [332.5, 480], xTitle: [480.5, 542.7], first: false });
const makeE3 = (cv: HTMLCanvasElement) => makeE(cv, { L: 356.7, T: 576.7, R: 601.2, B: 671, yMax: 6000, yTicks: e3YTicks, mtx: e3Mtx, ctrl: e3Ctrl, side: 'tRNA-Lys^{CUU}', sideBox: [304, 573, 327, 680], rpm: [334.5, 622.5], xTitle: [480.5, 688.3], first: false });

// ---------------- react ----------------
function ChartLayer({ make }: { make: (c: HTMLCanvasElement) => Chart }) {
  const ref = useRef<HTMLCanvasElement | null>(null);
  useEffect(() => {
    if (!ref.current) return undefined;
    const ch = make(ref.current);
    return () => ch.destroy();
  }, [make]);
  return <canvas ref={ref} width={W} height={H} style={{ position: 'absolute', left: 0, top: 0, width: W, height: H }} />;
}

const MAKERS = [makeA, makeB, makeC, makeD, makeE1, makeE2, makeE3, makeF1, makeF2, makeF3];

export default function App() {
  return (
    <div style={{ position: 'absolute', left: 0, top: 0, width: W, height: H, background: '#fff', overflow: 'hidden' }}>
      {MAKERS.map((m, i) => <ChartLayer key={i} make={m} />)}
    </div>
  );
}
